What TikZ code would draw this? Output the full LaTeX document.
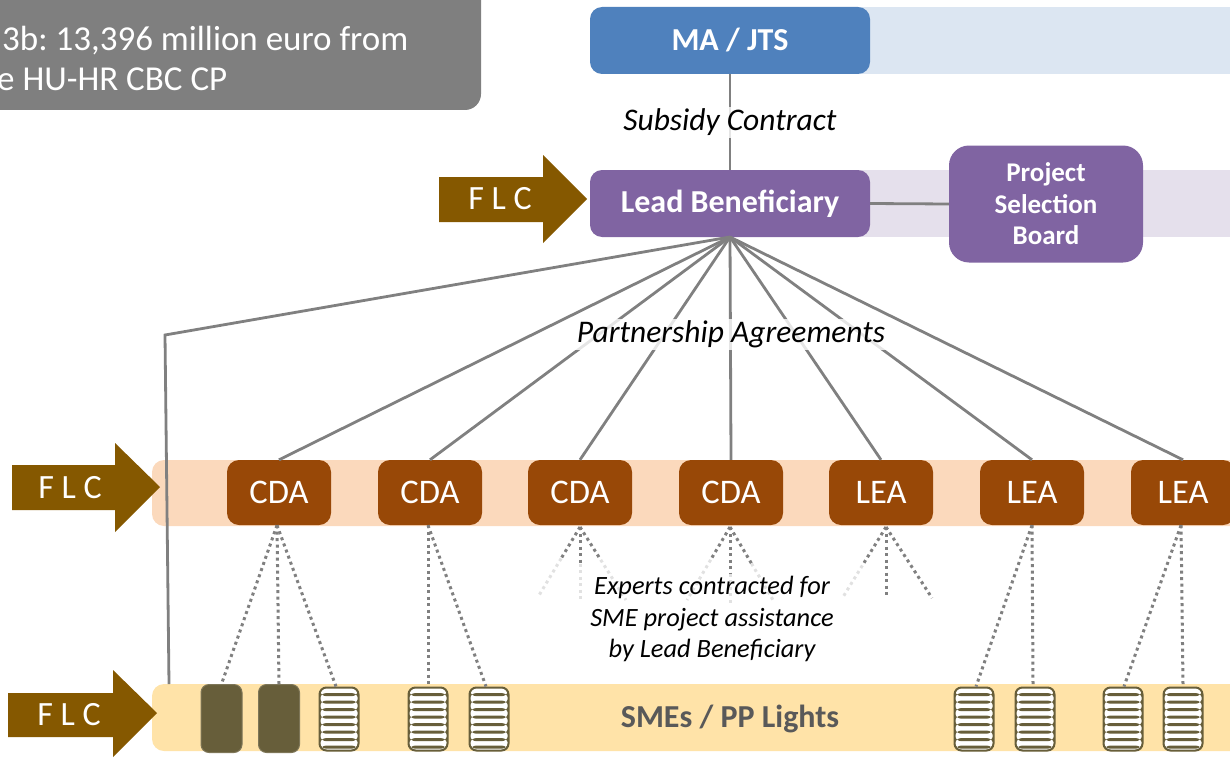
\documentclass[tikz,border=0pt]{standalone}
\usepackage{fontspec}
\setmainfont{Carlito}
\usetikzlibrary{calc}
\frenchspacing
\definecolor{boxgray}{RGB}{127,127,127}
\definecolor{mablue}{RGB}{79,129,189}
\definecolor{bandblue}{RGB}{220,230,242}
\definecolor{lbpurple}{RGB}{128,100,162}
\definecolor{bandpurple}{RGB}{229,224,236}
\definecolor{flcbrown}{RGB}{133,88,0}
\definecolor{bandpeach}{RGB}{251,217,188}
\definecolor{cdabrown}{RGB}{152,72,7}
\definecolor{bandgold}{RGB}{255,227,168}
\definecolor{smeolive}{RGB}{103,94,58}
\definecolor{linegray}{RGB}{128,128,128}
\definecolor{lightdot}{RGB}{225,225,225}
\definecolor{textgray}{RGB}{89,89,89}
\tikzset{
  notetext/.style={text=white, inner sep=0, font=\fontsize{35}{42}\selectfont},
  topbox/.style={rounded corners=12, minimum width=280, minimum height=67, text=white, inner sep=0, font=\fontsize{32}{38}\selectfont\bfseries},
  cdabox/.style={fill=cdabrown, rounded corners=12, minimum width=104, minimum height=65, text=white, inner sep=0, font=\fontsize{34.5}{40}\selectfont},
  solidsme/.style={fill=smeolive, draw=smeolive!85!white, line width=1, rounded corners=8, minimum width=41, minimum height=68, inner sep=0},
  stripesme/.style={fill=white, draw=smeolive, line width=2, rounded corners=7, minimum width=39, minimum height=63, inner sep=0,
    path picture={
      \foreach \k in {0,...,7}{
        \fill[smeolive] ([yshift=-(5.5+\k*7.5)*1pt]path picture bounding box.north west) rectangle ([yshift=-(8.7+\k*7.5)*1pt]path picture bounding box.north east);
      }
    }},
  solidline/.style={draw=linegray, line width=2.8},
  dotline/.style={draw=linegray, line width=3, dash pattern=on 3 off 3.5},
  dotfade/.style={draw=lightdot, line width=3, dash pattern=on 3 off 3.5},
  arrowshape/.style={fill=flcbrown},
  flctext/.style={text=white, font=\fontsize{34}{40}\selectfont, inner sep=0},
  labeltext/.style={font=\fontsize{31.5}{37}\selectfont\itshape, inner sep=2, fill=white, fill opacity=0.8, text opacity=1},
}
\newcommand{\fadedray}[3]{% origin, end, fraction
  \draw[dotline] (#1) -- ($(#1)!#3!(#2)$);
  \draw[dotfade] ($(#1)!#3!(#2)$) -- (#2);
}
\begin{document}
\begin{tikzpicture}[x=1pt,y=-1pt]
\useasboundingbox (0,0) rectangle (1230,757);
\clip (0,0) rectangle (1230,757);

% top-left gray note
\fill[boxgray, rounded corners=16] (-30,-30) rectangle (481,110);
\node[anchor=base west, notetext] (note1) at (2,51) {3b: 13,396 million euro from};
\node[anchor=base west, notetext] (note2) at (-3,91) {e HU-HR CBC CP};

% bands
\fill[bandblue] (860,7) rectangle (1240,74);
\fill[bandpurple] (860,170) rectangle (1240,237);
\fill[bandpeach, rounded corners=12] (152,460) rectangle (1260,526);
\fill[bandgold, rounded corners=12] (152,684) rectangle (1260,751);

% top boxes
\node[topbox, fill=mablue] (ma) at (730,40.5) {MA / JTS};
\node[topbox, fill=lbpurple] (lb) at (730,203.5) {Lead Beneficiary};
\node[fill=lbpurple, rounded corners=20, minimum width=194, minimum height=117, text=white, inner sep=0, align=center,
      font=\fontsize{27}{31.5}\selectfont\bfseries] (psb) at (1046,204) {Project\\Selection\\Board};

\draw[solidline] (ma.south) -- (lb.north);
\node[labeltext] (subsidy) at (730,122.5) {Subsidy Contract};
\draw[solidline] (lb.east) -- (psb.west);

% CDA / LEA row
\foreach \n/\x/\t in {c1/279/CDA, c2/430/CDA, c3/580/CDA, c4/731/CDA, l1/881/LEA, l2/1032/LEA, l3/1183/LEA}{
  \node[cdabox] (\n) at (\x,492.5) {\t};
}

% partnership lines
\coordinate (hub) at (730,237);
\coordinate (bend) at (165,335);
\coordinate (smetop) at (169,684);
\foreach \n in {c1,c2,c3,c4,l1,l2,l3}{
  \draw[solidline] (hub) -- (\n.north);
}
\draw[solidline, line join=miter] (hub) -- (bend) -- (smetop);
\node[labeltext] (partner) at (731,334.5) {Partnership Agreements};

% SME row
\node[solidsme] (m1) at (221.5,718.5) {};
\node[solidsme] (m2) at (279,718.5) {};
\foreach \n/\x in {m3/339, m4/428, m5/489, m6/974, m7/1035, m8/1123, m9/1183}{
  \node[stripesme] (\n) at (\x,719) {};
}
\node[text=textgray, font=\fontsize{32}{38}\selectfont\bfseries, inner sep=0] (smes) at (730,719) {SMEs / PP Lights};

% dotted contracts
\draw[dotline] ([xshift=-2]c1.south) -- (m1.north);
\draw[dotline] ([xshift=-2]c1.south) -- (m2.north);
\draw[dotline] ([xshift=-2]c1.south) -- ([xshift=-3]m3.north);
\draw[dotline] ([xshift=-2]c2.south) -- ([yshift=2]m4.north);
\draw[dotline] ([xshift=-2]c2.south) -- ([xshift=-3]m5.north);
\draw[dotline] (l2.south) -- ([xshift=2]m6.north);
\draw[dotline] (l2.south) -- ([xshift=-2,yshift=2]m7.north);
\draw[dotline] ([xshift=-2]l3.south) -- ([xshift=1]m8.north);
\draw[dotline] ([xshift=-2]l3.south) -- ([yshift=2]m9.north);

% expert sprays
\coordinate (e3a) at (538,597); \coordinate (e3b) at (580,600); \coordinate (e3c) at (626,600);
\coordinate (e4a) at (687,600); \coordinate (e4b) at (730,605); \coordinate (e4c) at (773,600);
\coordinate (e5a) at (843,597); \coordinate (e5b) at (886,598); \coordinate (e5c) at (932,598);
\coordinate (o3) at (580,527); \coordinate (o4) at (730,527); \coordinate (o5) at (886,527);
\fadedray{o3}{e3a}{0.45}
\fadedray{o3}{e3b}{0.5}
\fadedray{o3}{e3c}{0.45}
\fadedray{o4}{e4a}{0.45}
\fadedray{o4}{e4b}{0.6}
\fadedray{o4}{e4c}{0.5}
\fadedray{o5}{e5a}{0.55}
\draw[dotline] (o5) -- (e5b);
\draw[dotline] (o5) -- (e5c);
\node[align=center, font=\fontsize{26.4}{31.5}\selectfont\itshape, inner sep=0] (experts) at (712,619) {Experts contracted for\\SME project assistance\\by Lead Beneficiary};

% FLC arrows
\fill[arrowshape] (439,177) -- (543,177) -- (543,155) -- (587,199) -- (543,243) -- (543,222) -- (439,222) -- cycle;
\node[flctext] (flc1) at (500,199) {F L C};
\fill[arrowshape] (12,465) -- (115,465) -- (115,443) -- (160,487) -- (115,532) -- (115,510) -- (12,510) -- cycle;
\node[flctext] (flc2) at (70,488) {F L C};
\fill[arrowshape] (8,693) -- (113,693) -- (113,670) -- (157,713) -- (113,757) -- (113,737) -- (8,737) -- cycle;
\node[flctext] (flc3) at (69,715) {F L C};
\end{tikzpicture}
\end{document}
